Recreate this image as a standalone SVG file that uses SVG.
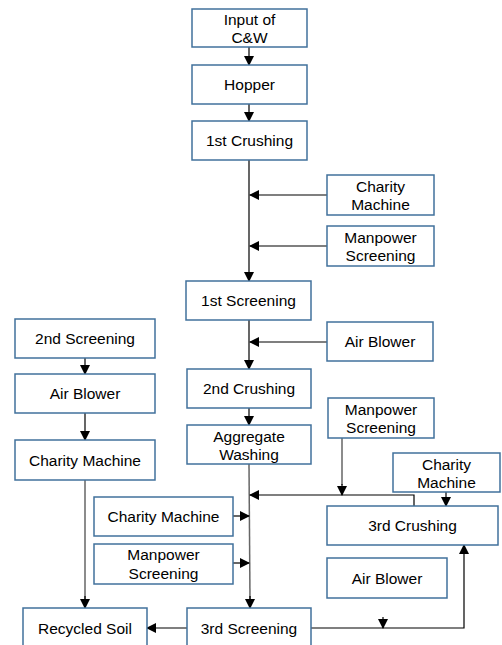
<svg xmlns="http://www.w3.org/2000/svg" width="502" height="645" viewBox="0 0 502 645">
<style>
.b{fill:#fff;stroke:#41719C;stroke-width:1.5}
.t{font-family:"Liberation Sans",Arial,sans-serif;font-size:15.5px;fill:#000;text-anchor:middle}
.c{fill:none;stroke:#000;stroke-width:1.2}
.g{fill:none;stroke:#666;stroke-width:1.5}
</style>
<defs>
<marker id="a" markerWidth="10" markerHeight="10" refX="9" refY="5" orient="auto" markerUnits="userSpaceOnUse">
<path d="M0,0 L10,5 L0,10 z" fill="#000"/>
</marker>
</defs>
<rect width="502" height="645" fill="#fff"/>
<g id="connectors">
<line class="c" x1="249" y1="47" x2="249" y2="65" marker-end="url(#a)"/>
<line class="c" x1="249" y1="104" x2="249" y2="121" marker-end="url(#a)"/>
<line class="c" x1="249" y1="160" x2="249" y2="281" marker-end="url(#a)"/>
<line class="c" x1="327" y1="195" x2="250" y2="195" marker-end="url(#a)"/>
<line class="c" x1="327" y1="246" x2="250" y2="246" marker-end="url(#a)"/>
<line class="c" x1="249" y1="320" x2="249" y2="369" marker-end="url(#a)"/>
<line class="c" x1="327" y1="342" x2="250" y2="342" marker-end="url(#a)"/>
<line class="c" x1="249" y1="408" x2="249" y2="425" marker-end="url(#a)"/>
<line class="g" x1="249" y1="464" x2="250" y2="600"/>
<line class="c" x1="250" y1="596" x2="250" y2="608" marker-end="url(#a)"/>
<line class="g" x1="342" y1="438" x2="342" y2="485"/>
<line class="c" x1="342" y1="484" x2="342" y2="495" marker-end="url(#a)"/>
<polyline class="c" points="414,506 414,495 250,495" marker-end="url(#a)"/>
<line class="c" x1="446" y1="492" x2="446" y2="506" marker-end="url(#a)"/>
<line class="c" x1="233" y1="516" x2="249" y2="516" marker-end="url(#a)"/>
<line class="c" x1="233" y1="563" x2="249" y2="563" marker-end="url(#a)"/>
<polyline class="c" points="311,628 464,628 464,545" marker-end="url(#a)"/>
<line class="c" x1="383" y1="617" x2="383" y2="628" marker-end="url(#a)"/>
<line class="c" x1="187" y1="628" x2="147" y2="628" marker-end="url(#a)"/>
<line class="c" x1="85" y1="358" x2="85" y2="374" marker-end="url(#a)"/>
<line class="c" x1="85" y1="413" x2="85" y2="440" marker-end="url(#a)"/>
<line class="g" x1="85" y1="480" x2="85" y2="600"/>
<line class="c" x1="85" y1="596" x2="85" y2="608" marker-end="url(#a)"/>
</g>
<g id="input"><rect class="b" x="192" y="9" width="115" height="38"/><text class="t" x="249.5" y="25">Input of</text><text class="t" x="249.5" y="43">C&amp;W</text></g>
<g id="hopper"><rect class="b" x="192" y="65" width="115" height="39"/><text class="t" x="249.5" y="90">Hopper</text></g>
<g id="crush1"><rect class="b" x="192" y="121" width="115" height="39"/><text class="t" x="249.5" y="146">1st Crushing</text></g>
<g id="charity1"><rect class="b" x="327" y="175" width="107" height="40"/><text class="t" x="380.5" y="192">Charity</text><text class="t" x="380.5" y="210">Machine</text></g>
<g id="manpower1"><rect class="b" x="327" y="226" width="107" height="40"/><text class="t" x="380.5" y="243">Manpower</text><text class="t" x="380.5" y="261">Screening</text></g>
<g id="screen1"><rect class="b" x="186" y="281" width="125" height="39"/><text class="t" x="248.5" y="306">1st Screening</text></g>
<g id="screen2"><rect class="b" x="15" y="319" width="140" height="39"/><text class="t" x="85" y="344">2nd Screening</text></g>
<g id="blower1"><rect class="b" x="327" y="322" width="106" height="39"/><text class="t" x="380" y="347">Air Blower</text></g>
<g id="blower2"><rect class="b" x="15" y="374" width="140" height="39"/><text class="t" x="85" y="399">Air Blower</text></g>
<g id="crush2"><rect class="b" x="187" y="369" width="124" height="39"/><text class="t" x="249" y="394">2nd Crushing</text></g>
<g id="manpower2"><rect class="b" x="328" y="398" width="106" height="40"/><text class="t" x="381" y="415">Manpower</text><text class="t" x="381" y="433">Screening</text></g>
<g id="washing"><rect class="b" x="187" y="425" width="124" height="39"/><text class="t" x="249" y="442">Aggregate</text><text class="t" x="249" y="460">Washing</text></g>
<g id="charity2"><rect class="b" x="15" y="440" width="140" height="40"/><text class="t" x="85" y="466">Charity Machine</text></g>
<g id="charity3"><rect class="b" x="393" y="453" width="107" height="39"/><text class="t" x="446.5" y="470">Charity</text><text class="t" x="446.5" y="488">Machine</text></g>
<g id="charity4"><rect class="b" x="94" y="497" width="139" height="39"/><text class="t" x="163.5" y="522">Charity Machine</text></g>
<g id="crush3"><rect class="b" x="327" y="506" width="171" height="39"/><text class="t" x="412.5" y="531">3rd Crushing</text></g>
<g id="manpower3"><rect class="b" x="94" y="544" width="139" height="40"/><text class="t" x="163.5" y="560">Manpower</text><text class="t" x="163.5" y="579">Screening</text></g>
<g id="blower3"><rect class="b" x="327" y="558" width="120" height="40"/><text class="t" x="387" y="584">Air Blower</text></g>
<g id="soil"><rect class="b" x="23" y="608" width="124" height="40"/><text class="t" x="85" y="634">Recycled Soil</text></g>
<g id="screen3"><rect class="b" x="187" y="608" width="124" height="40"/><text class="t" x="249" y="634">3rd Screening</text></g>
</svg>
